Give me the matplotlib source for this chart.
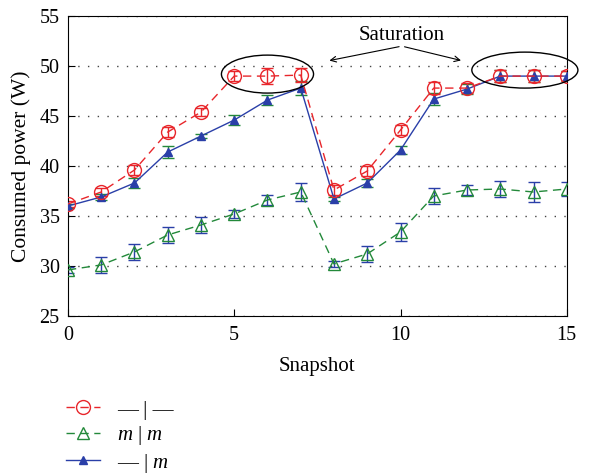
import matplotlib
matplotlib.use("Agg")
import matplotlib.pyplot as plt
from matplotlib.patches import Ellipse
import numpy as np

plt.rcParams["font.family"] = ["Liberation Serif", "DejaVu Serif"]
plt.rcParams["mathtext.fontset"] = "custom"
plt.rcParams["mathtext.it"] = "Liberation Serif:italic"

snapshot = np.arange(16)

# red dashed, open circles: "— | —"
red_vals = [36.2, 37.4, 39.6, 43.4, 45.4, 49.0, 49.0, 49.1, 37.6, 39.5, 43.6, 47.8, 47.8, 49.0, 49.0, 49.0]
red_err = [0.3, 0.4, 0.5, 0.5, 0.4, 0.5, 0.8, 0.7, 0.5, 0.5, 0.5, 0.6, 0.5, 0.6, 0.6, 0.5]

# green dashed, open triangles: "m | m"
green_vals = [29.6, 30.1, 31.4, 33.1, 34.1, 35.2, 36.6, 37.4, 30.2, 31.2, 33.4, 37.0, 37.6, 37.7, 37.4, 37.7]
green_err = [0.3, 0.8, 0.8, 0.8, 0.8, 0.4, 0.5, 0.9, 0.3, 0.8, 0.9, 0.8, 0.5, 0.8, 1.0, 0.7]

# blue solid, filled triangles: "— | m"
blue_vals = [36.0, 36.9, 38.3, 41.4, 43.0, 44.6, 46.6, 47.8, 36.7, 38.3, 41.6, 46.7, 47.7, 49.0, 49.0, 49.0]
blue_err = [0.2, 0.3, 0.5, 0.6, 0.2, 0.5, 0.5, 0.7, 0.2, 0.4, 0.4, 0.6, 0.5, 0.6, 0.6, 0.5]

labels = ["— | —", "$m$ | $m$", "— | $m$"]

fig = plt.figure(figsize=(5.91, 4.75), dpi=100)
ax = fig.add_axes([0.115, 0.335, 0.844, 0.631])

red = "#e8262b"
green = "#23893a"
blue = "#2a3fa8"

ax.errorbar(snapshot, green_vals, yerr=green_err, fmt="none", ecolor=blue,
            elinewidth=1.0, capsize=4, capthick=1.0, zorder=2)
l2, = ax.plot(snapshot, green_vals, "--", color=green, marker="^", markersize=9,
              markerfacecolor="none", markeredgewidth=1.0, linewidth=1.0,
              dashes=(6, 4), zorder=3)

ax.errorbar(snapshot, blue_vals, yerr=blue_err, fmt="none", ecolor=green,
            elinewidth=1.0, capsize=4, capthick=1.0, zorder=2)
l3, = ax.plot(snapshot, blue_vals, "-", color=blue, marker="^", markersize=6,
              markerfacecolor=blue, linewidth=1.0, zorder=4)

ax.errorbar(snapshot, red_vals, yerr=red_err, fmt="none", ecolor=red,
            elinewidth=1.0, capsize=4, capthick=1.0, zorder=2)
l1, = ax.plot(snapshot, red_vals, "--", color=red, marker="o", markersize=10,
              markerfacecolor="none", markeredgewidth=1.0, linewidth=1.0,
              dashes=(6, 4), zorder=5)

ax.set_xlim(0, 15)
ax.set_ylim(25, 55)
ax.set_xticks([0, 5, 10, 15])
ax.set_yticks([25, 30, 35, 40, 45, 50, 55])
ax.tick_params(direction="in", labelsize=14.5, length=5)
ax.tick_params(axis="x", pad=7)
ax.tick_params(axis="y", pad=6)
ax.yaxis.grid(True, linestyle=(0, (1, 6)), color="#444444", linewidth=1.0)
ax.set_axisbelow(True)
ax.set_xlabel("Snapshot", fontsize=15, labelpad=9)
ax.set_ylabel("Consumed power (W)", fontsize=15.5, labelpad=6)

# saturation ellipses and arrows
ax.add_patch(Ellipse((6.0, 49.2), 2.77, 3.8, fill=False, edgecolor="black",
                     linewidth=1.0, clip_on=False, zorder=6))
ax.add_patch(Ellipse((13.74, 49.6), 3.19, 3.6, fill=False, edgecolor="black",
                     linewidth=1.0, clip_on=False, zorder=6))
ax.text(10.04, 53.1, "Saturation", ha="center", va="center", fontsize=15)
for tx in (7.78, 11.9):
    ax.annotate("", xy=(tx, 50.5), xytext=(10.04, 52.0),
                arrowprops=dict(arrowstyle="->", color="black", linewidth=0.8))

fig.legend([l1, l2, l3], labels, loc="upper left", bbox_to_anchor=(0.094, 0.18),
           frameon=False, fontsize=15, handlelength=1.65, handletextpad=0.8,
           labelspacing=0.22, borderpad=0.0)

fig.savefig("out.png", dpi=100)
